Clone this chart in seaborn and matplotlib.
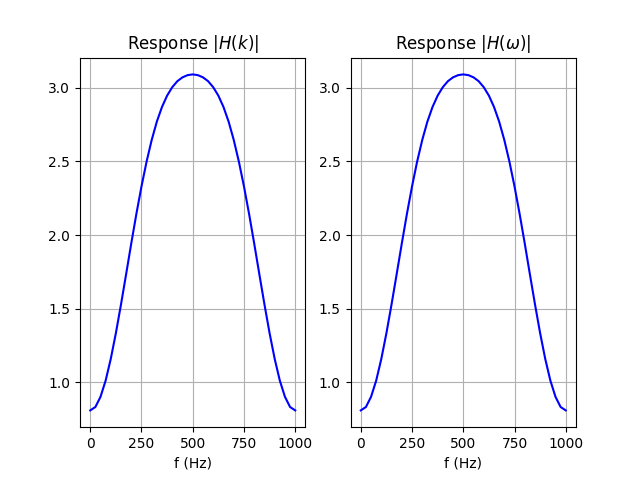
import matplotlib
matplotlib.use("Agg")
import matplotlib.pyplot as plt
import seaborn as sns
import numpy as np

# values, every 25 Hz
freq = [0, 25, 50, 75, 100, 125, 150, 175, 200, 225, 250, 275, 300, 325, 350, 375, 400, 425, 450, 475, 500,
        525, 550, 575, 600, 625, 650, 675, 700, 725, 750, 775, 800, 825, 850, 875, 900, 925, 950, 975, 1000]
half = [0.81, 0.833, 0.902, 1.012, 1.159, 1.334, 1.529, 1.734, 1.942, 2.143, 2.33,
        2.499, 2.646, 2.770, 2.869, 2.946, 3.003, 3.044, 3.07, 3.085, 3.09]
mag_k = half + half[-2::-1]
mag_w = list(mag_k)

fig, (ax1, ax2) = plt.subplots(1, 2, figsize=(6.4, 4.8), dpi=100)

sns.lineplot(x=freq, y=mag_k, ax=ax1, color="blue")
ax1.set_title(r"Response $|H(k)|$")
ax1.set_xlabel("f (Hz)")
ax1.grid(True)

sns.lineplot(x=freq, y=mag_w, ax=ax2, color="blue")
ax2.set_title(r"Response $|H(\omega)|$")
ax2.set_xlabel("f (Hz)")
ax2.grid(True)

for ax in (ax1, ax2):
    ax.set_xticks([0, 250, 500, 750, 1000])
    ax.set_yticks([1.0, 1.5, 2.0, 2.5, 3.0])

fig.savefig("out.png")
